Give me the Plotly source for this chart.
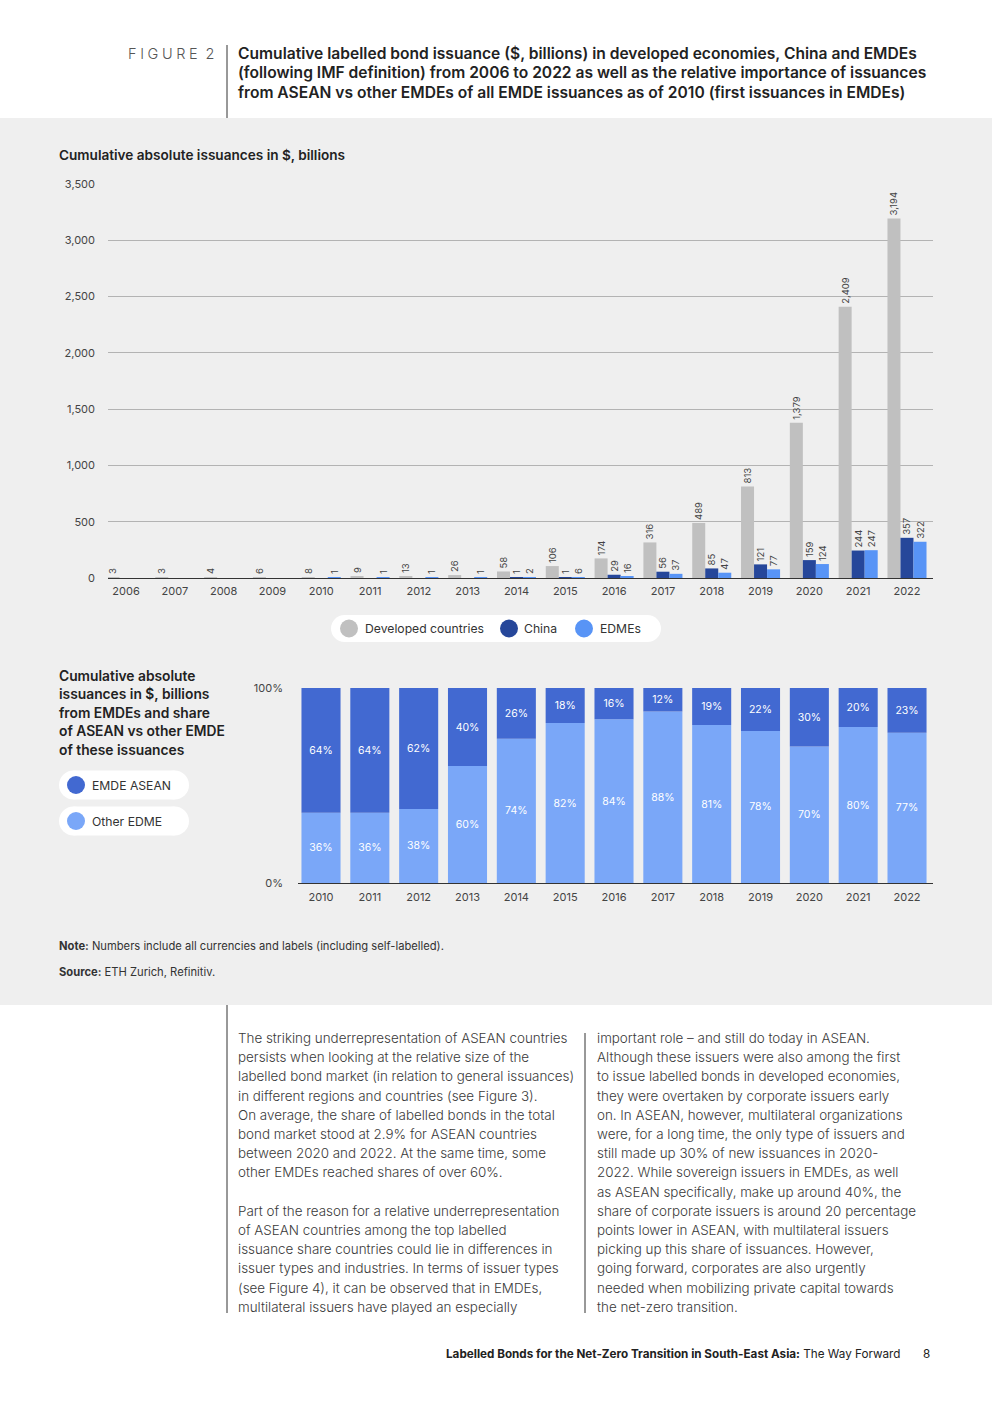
import plotly.graph_objects as go

W, H = 992, 1403
FONT = "Inter"

# ---------------- data ----------------
years = list(range(2006, 2023))
developed = [3, 3, 4, 6, 8, 9, 13, 26, 58, 106, 174, 316, 489, 813, 1379, 2409, 3194]
china = [0, 0, 0, 0, 0, 0, 0, 0, 1, 1, 29, 56, 85, 121, 159, 244, 357]
edmes = [0, 0, 0, 0, 1, 1, 1, 1, 2, 6, 16, 37, 47, 77, 124, 247, 322]

share_years = list(range(2010, 2023))
emde_total = [1, 1, 1, 1, 2, 6, 16, 37, 47, 77, 124, 247, 322]
asean_share = [64, 64, 62, 40, 26, 18, 16, 12, 19, 22, 30, 20, 23]
other_share = [36, 36, 38, 60, 74, 82, 84, 88, 81, 78, 70, 80, 77]

top_ticks = [0, 500, 1000, 1500, 2000, 2500, 3000, 3500]

series_names = ["Developed countries", "China", "EDMEs"]
share_names = ["EMDE ASEAN", "Other EDME"]

title_lines = [
    "Cumulative labelled bond issuance ($, billions) in developed economies, China and EMDEs",
    "(following IMF definition) from 2006 to 2022 as well as the relative importance of issuances",
    "from ASEAN vs other EMDEs of all EMDE issuances as of 2010 (first issuances in EMDEs)",
]
left_col = [
    "The striking underrepresentation of ASEAN countries",
    "persists when looking at the relative size of the",
    "labelled bond market (in relation to general issuances)",
    "in different regions and countries (see Figure 3).",
    "On average, the share of labelled bonds in the total",
    "bond market stood at 2.9% for ASEAN countries",
    "between 2020 and 2022. At the same time, some",
    "other EMDEs reached shares of over 60%.",
    "",
    "Part of the reason for a relative underrepresentation",
    "of ASEAN countries among the top labelled",
    "issuance share countries could lie in differences in",
    "issuer types and industries. In terms of issuer types",
    "(see Figure 4), it can be observed that in EMDEs,",
    "multilateral issuers have played an especially",
]
right_col = [
    "important role \u2013 and still do today in ASEAN.",
    "Although these issuers were also among the first",
    "to issue labelled bonds in developed economies,",
    "they were overtaken by corporate issuers early",
    "on. In ASEAN, however, multilateral organizations",
    "were, for a long time, the only type of issuers and",
    "still made up 30% of new issuances in 2020-",
    "2022. While sovereign issuers in EMDEs, as well",
    "as ASEAN specifically, make up around 40%, the",
    "share of corporate issuers is around 20 percentage",
    "points lower in ASEAN, with multilateral issuers",
    "picking up this share of issuances. However,",
    "going forward, corporates are also urgently",
    "needed when mobilizing private capital towards",
    "the net-zero transition.",
]

# ---------------- styling ----------------
C_DEV = "#c0c0c0"
C_CHN = "#26479a"
C_EDM = "#5894f6"
C_ASE = "#4269d1"
C_OTH = "#7aa7f8"
BG = "#efefef"
TXT = "#333333"


def px(x):
    return x / W


def py(y):
    return 1 - y / H


def lab(vals):
    return [f"{v:,}" if v else "" for v in vals]


fig = go.Figure()

# top chart bars (manual grouping)
bw = 0.8 / 3
for name, vals, col, off in zip(series_names, [developed, china, edmes],
                                [C_DEV, C_CHN, C_EDM], [-0.4, -0.4 + bw, -0.4 + 2 * bw]):
    fig.add_trace(go.Bar(
        x=years, y=vals, name=name, marker=dict(color=col, line=dict(width=0)),
        width=bw, offset=off, text=lab(vals), textposition="outside", textangle=-90,
        textfont=dict(family=FONT, size=9.5, color="#444444"), constraintext="none",
        cliponaxis=False, xaxis="x", yaxis="y", showlegend=False, hoverinfo="x+y+name",
    ))

# bottom chart stacked bars
fig.add_trace(go.Bar(
    x=share_years, y=other_share, name=share_names[1], marker=dict(color=C_OTH, line=dict(width=0)),
    width=0.8, offset=-0.4, text=[f"{v}%" for v in other_share], textposition="inside",
    insidetextanchor="middle", textangle=0, textfont=dict(family=FONT, size=10.5, color="white"),
    constraintext="none", xaxis="x2", yaxis="y2", showlegend=False,
))
fig.add_trace(go.Bar(
    x=share_years, y=asean_share, base=other_share, name=share_names[0],
    marker=dict(color=C_ASE, line=dict(width=0)),
    width=0.8, offset=-0.4, text=[f"{v}%" for v in asean_share], textposition="inside",
    insidetextanchor="middle", textangle=0, textfont=dict(family=FONT, size=10.5, color="white"),
    constraintext="none", xaxis="x2", yaxis="y2", showlegend=False,
))
fig.add_trace(go.Scatter(
    x=share_years, y=[107.5] * len(share_years), mode="text", text=[str(v) for v in emde_total],
    textfont=dict(family=FONT, size=12.5, color=TXT), cliponaxis=False,
    xaxis="x2", yaxis="y2", showlegend=False, hoverinfo="skip",
))

axis_font = dict(family=FONT, size=11, color="#444444")
fig.update_layout(
    width=W, height=H, autosize=False, margin=dict(l=0, r=0, t=0, b=0, pad=0),
    paper_bgcolor="white", plot_bgcolor="rgba(0,0,0,0)", barmode="overlay",
    font=dict(family=FONT, color=TXT),
    xaxis=dict(domain=[px(108), px(933)], range=[2005.631, 2022.533], tickvals=years,
               ticktext=[str(y) for y in years], showgrid=False, showline=True,
               linecolor="#333333", linewidth=1.2, ticks="", tickfont=axis_font,
               ticklabelstandoff=3, fixedrange=True, automargin=False),
    yaxis=dict(domain=[py(578), py(184)], range=[0, 3500], tickvals=top_ticks,
               tickformat=",", showgrid=True, gridcolor="#b3b3b3", gridwidth=1,
               zeroline=False, tickfont=axis_font, ticklabelstandoff=12, fixedrange=True,
               automargin=False),
    xaxis2=dict(domain=[px(298), px(933)], range=[2009.529, 2022.532], tickvals=share_years,
                ticktext=[str(y) for y in share_years], showgrid=False, showline=True,
                linecolor="#333333", linewidth=1.2, ticks="", tickfont=axis_font,
                anchor="y2", ticklabelstandoff=4, fixedrange=True, automargin=False),
    yaxis2=dict(domain=[py(883), py(688)], range=[0, 100], tickvals=[0, 100],
                ticktext=["0%", "100%"], showgrid=True, gridcolor="#b3b3b3",
                zeroline=False, tickfont=axis_font, anchor="x2", ticklabelstandoff=14,
                fixedrange=True, automargin=False),
)

shapes = []
# gray panel
shapes.append(dict(type="rect", xref="paper", yref="paper", x0=0, x1=1, y0=py(1005), y1=py(118),
                   fillcolor=BG, line=dict(width=0), layer="below"))
# vertical rules
for (x, y0, y1) in [(227, 45, 118), (227, 1005, 1313), (585, 1033, 1313)]:
    shapes.append(dict(type="line", xref="paper", yref="paper", x0=px(x), x1=px(x),
                       y0=py(y0), y1=py(y1), line=dict(color="#333333", width=1)))


def pill(x0, x1, yc, h):
    r = h / 2
    out = [dict(type="rect", xref="paper", yref="paper", x0=px(x0 + r), x1=px(x1 - r),
                y0=py(yc + r), y1=py(yc - r), fillcolor="white", line=dict(width=0), layer="below")]
    for cx in (x0 + r, x1 - r):
        out.append(dict(type="circle", xref="paper", yref="paper", x0=px(cx - r), x1=px(cx + r),
                        y0=py(yc + r), y1=py(yc - r), fillcolor="white", line=dict(width=0),
                        layer="below"))
    return out


def dot(cx, cy, r, col):
    return dict(type="circle", xref="paper", yref="paper", x0=px(cx - r), x1=px(cx + r),
                y0=py(cy + r), y1=py(cy - r), fillcolor=col, line=dict(width=0))


shapes += pill(331, 661, 628.5, 27)
shapes += [dot(349, 628.5, 9, C_DEV), dot(509, 628.5, 9, C_CHN), dot(584, 628.5, 9, C_EDM)]
shapes += pill(59, 189, 785, 29)
shapes += pill(59, 189, 821, 29)
shapes += [dot(76, 785, 9, C_ASE), dot(76, 821, 9, C_OTH)]
fig.update_layout(shapes=shapes)

ann = []


def text(x, y, s, size=12, color=TXT, anchor="left", weight=None):
    f = dict(family=FONT, size=size, color=color)
    if weight:
        f["weight"] = weight
    ann.append(dict(x=px(x), y=py(y), xref="paper", yref="paper", text=s, showarrow=False,
                    xanchor=anchor, yanchor="middle", font=f, align=anchor))


# header
text(216, 53, "F\u2005I\u2005G\u2005U\u2005R\u2005E\u2005 2", size=14.5, color="#555555",
     anchor="right", weight=300)
for i, line in enumerate(title_lines):
    text(236, 53 + 20 * i, line, size=15.6, color="#222222", weight=600)

text(57, 155, "Cumulative absolute issuances in $, billions", size=13.6, color="#222222", weight=600)

# top legend
for x, s in [(363, series_names[0]), (522, series_names[1]), (598, series_names[2])]:
    text(x, 628.5, s, size=12.2)

# bottom left description
desc = ["Cumulative absolute", "issuances in $, billions", "from EMDEs and share",
        "of ASEAN vs other EMDE", "of these issuances"]
for i, line in enumerate(desc):
    text(57, 676 + 18.4 * i, line, size=13.8, color="#222222", weight=600)
text(90, 785, share_names[0], size=12.2)
text(90, 821, share_names[1], size=12.2)

# notes
text(57, 946, "<b>Note:</b> Numbers include all currencies and labels (including self-labelled).",
     size=11.2, color="#333333")
text(57, 972, "<b>Source:</b> ETH Zurich, Refinitiv.", size=11.2, color="#333333")

# body text
for i, line in enumerate(left_col):
    if line:
        text(236, 1038 + 19.2 * i, line, size=13.4, color="#3a3a3a", weight=300)
for i, line in enumerate(right_col):
    text(595, 1038 + 19.2 * i, line, size=13.4, color="#3a3a3a", weight=300)

# footer
text(902, 1354, "<b>Labelled Bonds for the Net-Zero Transition in South-East Asia:</b> The Way Forward",
     size=11.7, color="#222222", anchor="right")
text(932, 1354, "8", size=11.7, color="#222222", anchor="right")

fig.update_layout(annotations=ann)

fig.write_html(
    "out.html",
    config={"displayModeBar": False, "responsive": False},
    post_script=("document.documentElement.style.margin='0px';"
                 "document.body.style.margin='0px';"
                 "document.body.style.overflow='hidden';"),
)
